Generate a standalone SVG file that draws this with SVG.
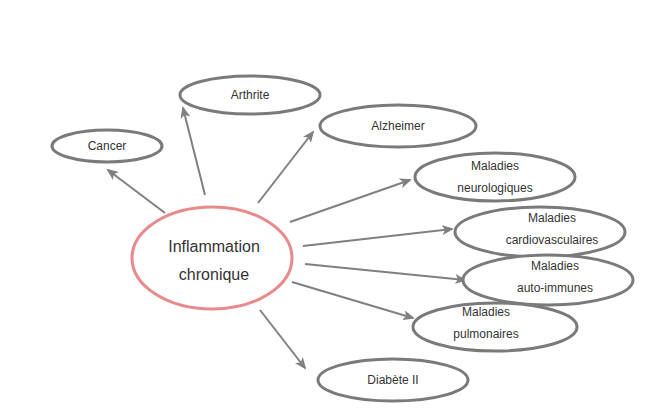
<svg xmlns="http://www.w3.org/2000/svg" width="671" height="410" viewBox="0 0 671 410">
<style>
.n{fill:#fff;stroke:#7a7a7a;stroke-width:3}
.t{font-family:"Liberation Sans",Arial,sans-serif;font-size:12px;fill:#333;text-anchor:middle}
.c line{stroke:#808080;stroke-width:2;marker-end:url(#a)}
</style>
<defs><marker id="a" markerWidth="12" markerHeight="10" refX="10" refY="5" orient="auto" markerUnits="userSpaceOnUse"><path d="M0,0L12,5L0,10L3,5Z" fill="#808080"/></marker></defs>
<rect width="671" height="410" fill="#fff"/>
<g class="c">
<line x1="165" y1="213" x2="108" y2="170"/>
<line x1="205" y1="195" x2="183" y2="108"/>
<line x1="258" y1="203" x2="313" y2="132"/>
<line x1="290" y1="222" x2="410" y2="180"/>
<line x1="303" y1="246" x2="452" y2="229"/>
<line x1="305" y1="264" x2="465" y2="280"/>
<line x1="292" y1="282" x2="413" y2="318"/>
<line x1="260" y1="310" x2="305" y2="368"/>
</g>
<g id="cancer"><ellipse class="n" cx="107" cy="146" rx="55" ry="16"/><text class="t" x="107" y="150">Cancer</text></g>
<g id="arthrite"><ellipse class="n" cx="250" cy="95" rx="70" ry="19"/><text class="t" x="250" y="99">Arthrite</text></g>
<g id="alzheimer"><ellipse class="n" cx="398" cy="126" rx="78" ry="21"/><text class="t" x="398" y="130">Alzheimer</text></g>
<g id="neuro"><ellipse class="n" cx="495" cy="177" rx="80" ry="24"/><text class="t" x="495" y="170">Maladies</text><text class="t" x="495" y="192">neurologiques</text></g>
<g id="cardio"><ellipse class="n" cx="540" cy="232" rx="85" ry="25"/><text class="t" x="552" y="222">Maladies</text><text class="t" x="552" y="244">cardiovasculaires</text></g>
<g id="auto"><ellipse class="n" cx="548" cy="280" rx="85" ry="25"/><text class="t" x="555" y="270">Maladies</text><text class="t" x="555" y="292">auto-immunes</text></g>
<g id="pulmo"><ellipse class="n" cx="495" cy="327" rx="82" ry="24"/><text class="t" x="486" y="316">Maladies</text><text class="t" x="486" y="338">pulmonaires</text></g>
<g id="diabete"><ellipse class="n" cx="393" cy="380" rx="75" ry="21"/><text class="t" x="393" y="384">Diabète II</text></g>
<g id="inflammation"><ellipse cx="212" cy="258" rx="80" ry="51" fill="#fff" stroke="#e8898a" stroke-width="3"/><text class="t" x="214" y="252" style="font-size:16px">Inflammation</text><text class="t" x="214" y="280" style="font-size:16px">chronique</text></g>
</svg>
